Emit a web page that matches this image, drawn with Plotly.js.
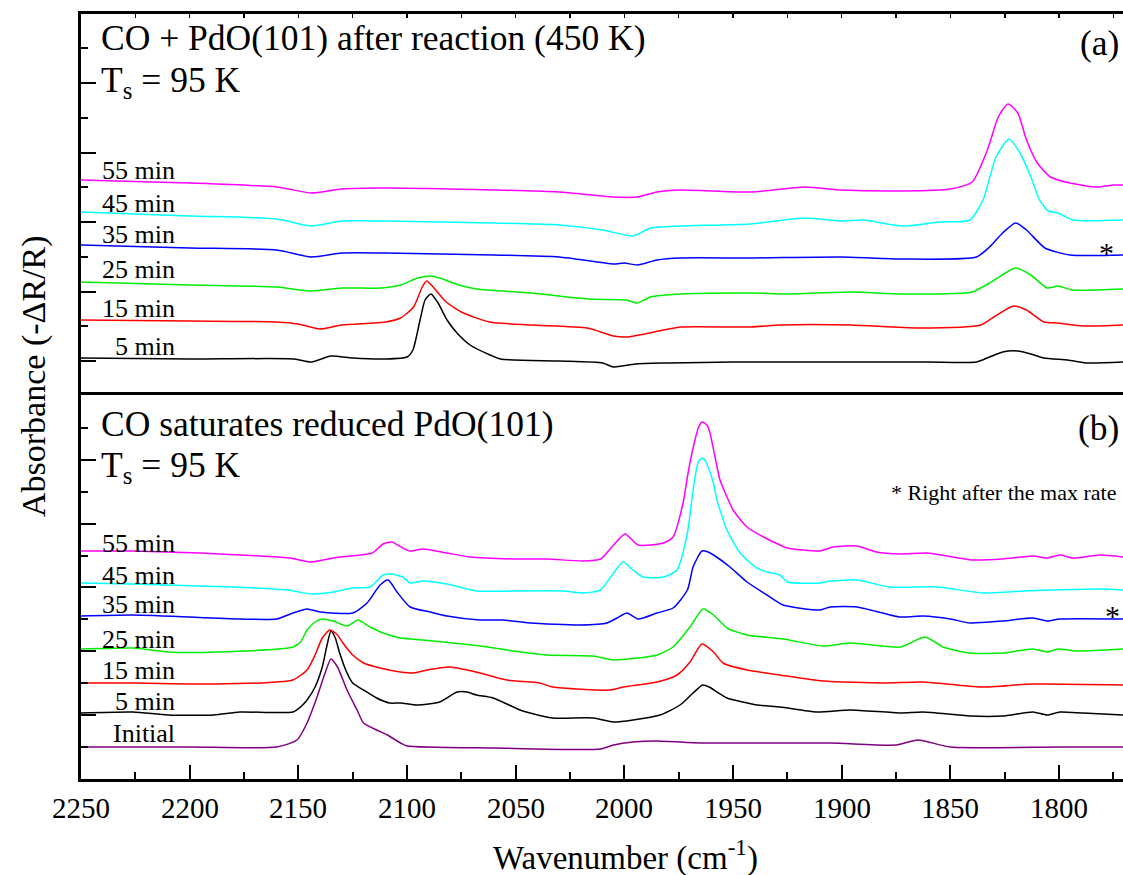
<!DOCTYPE html>
<html>
<head>
<meta charset="utf-8">
<script src="https://cdn.plot.ly/plotly-3.0.1.min.js"></script>
<style>html,body{margin:0;padding:0;background:#fff;}#chart{width:1123px;height:875px;}</style>
</head>
<body>
<div id="chart"></div>
<script>
// ---------- Panel (a): CO + PdO(101) after reaction (450 K) ----------
const a5_wn  = [2250,2200,2152,2144,2135,2125,2110,2100,2097.3,2094,2091.7,2089,2085.7,2081.6,2077,2071,2061.8,2057,2030,2010,2005,1995,1980,1950,1900,1860,1838,1832,1826,1819,1813,1807,1796,1787,1770.6];
const a5_abs = [37,36,36,33,39,37,36,38,45,75,95,101,92,75,62,50,40,36,34,32,28,31,32,33,33,33,33,38,43,44,41,37,35,32,33];
const a15_wn  = [2250,2200,2160,2150,2140,2130,2110,2103,2097,2093,2091,2088,2082,2074,2062,2043,2017,2005,1999,1982,1974,1942,1928,1896,1865,1836,1830,1821,1815,1807,1801,1789,1770.6];
const a15_abs = [75,74,73,71,66,70,73,77,88,108,114,108,93,82,73,70,67,59,58,65,68,68,70,70,67,70,78,89,85,73,72,69,70];
const a25_wn  = [2250,2200,2160,2144,2130,2112,2103,2095,2089,2085,2076,2068,2043,2017,1999,1994,1988,1974,1942,1925,1896,1872,1840,1832,1820,1813,1805.5,1800.5,1794,1770.6];
const a25_abs = [113,110,108,104,107,107,110,117,119,117,110,106,102,96,95,92,98,101,102,101,103,101,103,112,127,120,107,109,105,106];
const a35_wn  = [2250,2200,2160,2144,2130,2110,2060,2030,2005,2000,1994,1985,1974,1942,1900,1872,1838,1832,1826,1820,1815,1806.5,1795,1770.6];
const a35_abs = [150,147,145,138,142,142,140,138,131,132,130,135,137,137,138,136,138,148,162,172,165,147,140,140];
const a45_wn  = [2250,2200,2160,2144,2130,2110,2060,2030,2010,1996,1988,1974,1942,1917,1900,1890,1872,1855,1841,1835,1829,1823,1818,1813,1809,1805,1800.5,1793.6,1770.6];
const a45_abs = [183,179,176,169,174,174,172,170,165,159,167,169,171,177,174,175,169,173,175,195,238,256,242,218,195,184,182,175,175];
const a55_wn  = [2250,2200,2160,2144,2130,2110,2060,2030,2005,1994,1985,1974,1942,1917,1900,1872,1850,1840,1833,1828,1823.5,1819,1815,1810,1804,1795,1782.5,1775,1770.6];
const a55_abs = [215,212,208,202,206,207,205,203,198,198,203,205,203,208,205,204,206,213,245,278,291,282,255,232,218,212,208,210,210];

// ---------- Panel (b): CO saturates reduced PdO(101) ----------
const bI_wn  = [2250,2200,2160,2150.6,2146,2141.4,2137.7,2135,2132,2127.6,2123,2120,2114,2109,2103,2100,2060,2011,2005,1996,1985,1965,1942,1905,1875,1865,1850,1800,1770.6];
const bI_abs = [32,32,32,39,56,82,106,120,112,89,69,56,49,44,36,33,31,30,34,37,38,36,36,36,34,39,32,32,32];
const b5_wn  = [2250,2226,2210,2189,2177,2152.5,2149,2146,2142.3,2139,2136.8,2135,2133,2131,2127.6,2125,2120,2114,2108,2103,2095.4,2085,2077,2072.4,2068,2060.4,2048,2043.4,2033,2014.4,2005,1996,1983.6,1974.4,1968.4,1964,1961,1957.4,1952.8,1939,1928.4,1911.4,1896,1873,1862.6,1841,1826,1812,1805.6,1799.6,1789,1770.6];
const b5_abs = [66,67,64,64,67,67,72,79,92,112,134,148,141,126,106,96,89,81,76,76,74,77,87,87,84,81,69,66,61,61,57,59,64,74,86,94,92,87,81,74,72,67,69,66,67,63,63,67,64,67,66,64];
const b15_wn  = [2250,2226,2189,2160,2152.5,2146,2142.3,2139,2135.5,2132,2129.5,2125,2120,2112.4,2103,2097,2090.8,2080,2066.4,2054,2039,2033,2006.6,2000.6,1985,1975.8,1969.8,1964.3,1959,1954.6,1943.6,1928.4,1908.6,1881,1862.6,1836,1812,1770.6];
const b15_abs = [96,96,95,97,99,109,124,141,149,144,136,124,116,111,107,106,109,112,106,99,96,92,89,92,97,104,117,135,127,116,109,104,98,96,97,92,95,94];
const b25_wn  = [2250,2226,2210,2187,2152.5,2149,2146,2142.3,2139,2134,2127.6,2122.5,2117,2111,2103,2092.6,2078.8,2066.4,2051,2035.6,2014.4,2005,1985,1977.6,1969.8,1963.8,1959,1952.8,1943.6,1927,1908.6,1896,1873,1861.7,1853.4,1841,1826,1812,1805.6,1800.5,1791.8,1770.6];
const b25_abs = [130,131,127,127,132,137,149,157,160,158,153,159,152,146,141,139,136,133,128,124,123,119,124,132,152,170,164,151,144,140,133,136,132,142,132,126,126,130,127,130,128,130];
const b35_wn  = [2250,2226,2177,2160,2152.5,2146,2140,2125,2118.4,2112.4,2108.7,2104.6,2098.6,2089.4,2081.6,2066.4,2055.8,2043.4,2020.4,2008,2003.4,1998.8,1993.7,1985,1977.6,1971,1968.4,1964.3,1961.5,1959,1951.4,1943.6,1934.4,1927,1910,1905.4,1893,1873,1862.6,1850,1841,1826,1812,1805.6,1799.6,1770.6];
const b35_abs = [163,164,160,160,166,170,167,166,176,194,199,187,172,167,163,159,159,156,154,156,161,166,160,166,171,189,212,228,227,224,212,197,184,174,169,172,172,162,163,160,156,158,161,158,160,160];
const b45_wn  = [2250,2226,2180,2155,2144,2134,2125,2117,2111,2107,2102,2098.6,2092.6,2081.6,2068,2051,2028,2019,2011,2005,2000.6,1996,1991.4,1982,1975.8,1971,1969,1967.5,1966,1964.3,1963,1961.5,1959,1957.4,1952.8,1946.8,1942,1939,1934.4,1928.4,1925,1910,1905.4,1893,1878,1856,1835,1816.6,1804,1781,1770.6];
const b45_abs = [196,195,192,189,185,187,191,192,204,205,202,196,198,195,188,188,188,186,189,206,217,209,202,202,209,246,279,302,317,321,319,312,296,279,249,226,216,211,207,204,197,196,198,199,192,192,186,188,189,190,189];
const b55_wn  = [2250,2226,2195,2168,2154,2144,2134,2121.6,2116,2111,2107,2102,2098.6,2092.6,2081.6,2071,2051,2035.6,2019,2011,2005,1999.7,1993.7,1982,1977.6,1973,1970.7,1968.4,1966,1964.3,1962,1960.6,1958.3,1956,1952.8,1950,1943.6,1936,1928.4,1925,1910,1904,1893,1884,1873,1860.8,1839.6,1826,1812,1805.6,1799.6,1793.6,1781,1770.6];
const b55_abs = [228,228,226,223,221,217,221,224,226,235,237,231,228,230,226,222,220,220,218,220,234,245,234,236,242,276,306,331,351,357,354,346,322,299,282,269,252,242,234,231,228,232,233,227,225,226,219,220,223,221,224,221,224,222];

const labelsA = ['5 min','15 min','25 min','35 min','45 min','55 min'];
const labelsB = ['Initial','5 min','15 min','25 min','35 min','45 min','55 min'];
const xTicks = [2250,2200,2150,2100,2050,2000,1950,1900,1850,1800];

// ---------- styling ----------
const FONT = '"Liberation Serif", serif';
const W = 1123, H = 875, L = 81, R = 0, T = 14, B = 96;
const PW = W - L - R, PH = H - T - B;
const split = 384 / PH;
const px = x => (x - L) / PW;
const py = y => (H - B - y) / PH;

function tr(x, y, color, xa, ya) {
  return {x: x, y: y, type: 'scatter', mode: 'lines', xaxis: xa, yaxis: ya,
          line: {color: color, width: 1.5, shape: 'spline', smoothing: 0.6},
          hoverinfo: 'skip', showlegend: false};
}
const data = [
  tr(a5_wn, a5_abs, '#000000', 'x2', 'y2'),
  tr(a15_wn, a15_abs, '#ff0000', 'x2', 'y2'),
  tr(a25_wn, a25_abs, '#00ee00', 'x2', 'y2'),
  tr(a35_wn, a35_abs, '#0000ff', 'x2', 'y2'),
  tr(a45_wn, a45_abs, '#00ffff', 'x2', 'y2'),
  tr(a55_wn, a55_abs, '#ff00ff', 'x2', 'y2'),
  tr(bI_wn, bI_abs, '#800080', 'x', 'y'),
  tr(b5_wn, b5_abs, '#000000', 'x', 'y'),
  tr(b15_wn, b15_abs, '#ff0000', 'x', 'y'),
  tr(b25_wn, b25_abs, '#00ee00', 'x', 'y'),
  tr(b35_wn, b35_abs, '#0000ff', 'x', 'y'),
  tr(b45_wn, b45_abs, '#00ffff', 'x', 'y'),
  tr(b55_wn, b55_abs, '#ff00ff', 'x', 'y')
];

function ann(text, x, y, size, xanchor, extra) {
  return Object.assign({text: text, xref: 'paper', yref: 'paper', x: px(x), y: py(y),
    xanchor: xanchor || 'left', yanchor: 'middle', showarrow: false,
    font: {family: FONT, size: size, color: '#000'}}, extra || {});
}
const labelYA = [346, 308, 269, 235, 203, 170];
const labelYB = [733, 701, 670, 639, 604, 575, 543];
const annotations = [
  ann('CO + PdO(101) after reaction (450 K)', 99, 38, 35.5),
  ann('T<sub>s</sub> = 95 K', 99, 82, 35.5),
  ann('(a)', 1121, 43, 35.5, 'right'),
  ann('CO saturates reduced PdO(101)', 99, 424, 35.5),
  ann('T<sub>s</sub> = 95 K', 99, 467, 35.5),
  ann('(b)', 1121, 428, 35.5, 'right'),
  ann('* Right after the max rate', 1118, 492, 22, 'right'),
  ann('*', 1106, 252, 30, 'center'),
  ann('*', 1112, 615, 30, 'center'),
  ann('Absorbance (-ΔR/R)', 34, 376, 34, 'center', {textangle: -90}),
  ann('Wavenumber (cm<sup>-1</sup>)', 625, 855, 33, 'center')
];
labelsA.forEach((t, i) => annotations.push(ann(t, 177, labelYA[i], 26, 'right')));
labelsB.forEach((t, i) => annotations.push(ann(t, 177, labelYB[i], 26, 'right')));
// x tick labels placed at their axis values
xTicks.forEach(v => annotations.push({text: String(v), xref: 'x', yref: 'paper', x: v, y: py(808),
  xanchor: 'center', yanchor: 'middle', showarrow: false,
  font: {family: FONT, size: 29, color: '#000'}}));

const axisCommon = {showgrid: false, zeroline: false, showline: true, linecolor: '#000',
                    linewidth: 3, ticks: 'inside', tickcolor: '#000'};
const layout = {
  width: W, height: H, margin: {l: L, r: R, t: T, b: B},
  paper_bgcolor: '#fff', plot_bgcolor: '#fff',
  font: {family: FONT, color: '#000'},
  showlegend: false,
  xaxis: Object.assign({}, axisCommon, {
    range: [2250, 1770.6], anchor: 'y', tickmode: 'array', tickvals: xTicks,
    ticklen: 14, tickwidth: 2, mirror: true, showticklabels: false,
    minor: {ticks: 'inside', ticklen: 7, tickwidth: 2, tickcolor: '#000', dtick: 25, tick0: 2250}
  }),
  xaxis2: Object.assign({}, axisCommon, {
    range: [2250, 1770.6], anchor: 'y2', side: 'top', matches: 'x',
    tickmode: 'linear', tick0: 2250, dtick: 25, ticklen: 4, tickwidth: 1.5,
    showticklabels: false
  }),
  yaxis: Object.assign({}, axisCommon, {
    domain: [0, split], range: [0, 384], tickmode: 'linear', tick0: 64, dtick: 63.8,
    ticklen: 15, tickwidth: 2, showticklabels: false,
    minor: {ticks: 'inside', ticklen: 7, tickwidth: 2, tickcolor: '#000', tick0: 0.2, dtick: 31.9}
  }),
  yaxis2: Object.assign({}, axisCommon, {
    domain: [split, 1], range: [0, 381], tickmode: 'linear', tick0: 34, dtick: 69.5,
    ticklen: 15, tickwidth: 2, showticklabels: false,
    minor: {ticks: 'inside', ticklen: 7, tickwidth: 2, tickcolor: '#000', tick0: -0.75, dtick: 34.75}
  }),
  annotations: annotations
};
Plotly.newPlot('chart', data, layout, {staticPlot: true, displayModeBar: false});
</script>
</body>
</html>
